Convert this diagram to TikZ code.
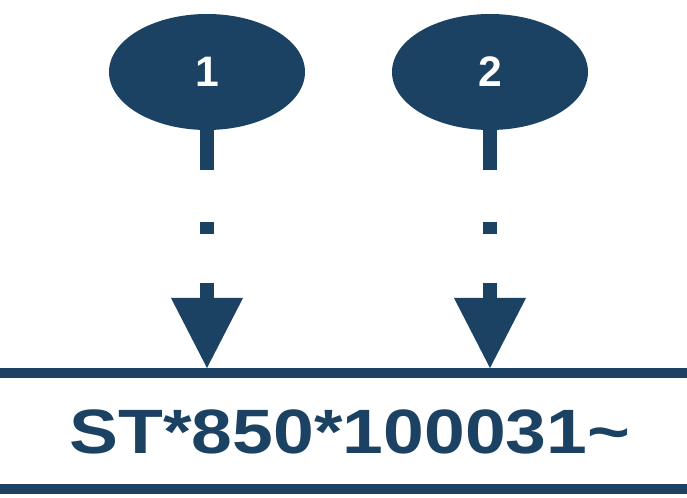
\documentclass[tikz,border=0pt]{standalone}
\usepackage{fontspec}
\setmainfont{Liberation Sans}
\usetikzlibrary{shapes.geometric}
\definecolor{navy}{HTML}{1B4163}
\begin{document}
\begin{tikzpicture}[x=0.75pt,y=-0.75pt,
  oval/.style={ellipse,fill=navy,minimum width=196*0.75pt,minimum height=116*0.75pt,inner sep=0pt,text=white,font=\fontsize{32}{32}\selectfont\bfseries},
  conn/.style={navy,line width=14*0.75pt,dash pattern=on 40*0.75pt off 52*0.75pt on 12*0.75pt off 49*0.75pt on 30*0.75pt},
  bar/.style={navy,line width=10*0.75pt}]
\useasboundingbox (0,0) rectangle (687,498);
\node[oval] (a) at (207,72) {1};
\node[oval] (b) at (490,72) {2};
\coordinate (ta) at (207,368);
\coordinate (tb) at (490,368);
\coordinate (la) at (207,300);
\coordinate (lb) at (490,300);
\draw[conn] (207,130) -- (la);
\draw[conn] (490,130) -- (lb);
\fill[navy] (171,298) -- (243,298) -- (ta) -- cycle;
\fill[navy] (454,298) -- (526,298) -- (tb) -- cycle;
\coordinate (l1) at (0,373); \coordinate (r1) at (687,373);
\coordinate (l2) at (0,489); \coordinate (r2) at (687,489);
\draw[bar] (l1) -- (r1);
\draw[bar] (l2) -- (r2);
\node[navy,font=\fontsize{47}{47}\selectfont\bfseries] (t) at (350,432) {\scalebox{1.17}[1]{ST*850*100031\char`~}};
\end{tikzpicture}
\end{document}
